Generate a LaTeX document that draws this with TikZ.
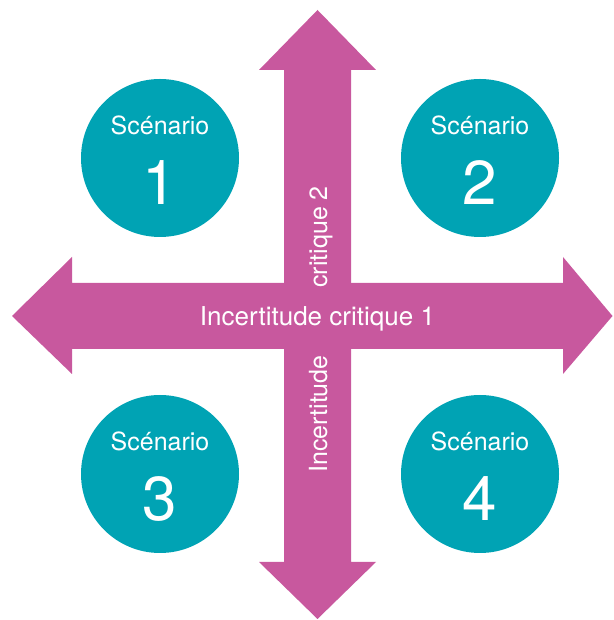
\documentclass[tikz,border=0pt]{standalone}
\usepackage{fontspec}
\setmainfont{TeX Gyre Heros}
\definecolor{arrowmag}{RGB}{200,88,158}
\definecolor{scenteal}{RGB}{0,163,180}
\begin{document}
\begin{tikzpicture}[x=1pt,y=1pt,
  scen/.style={circle,fill=scenteal,minimum size=158pt,inner sep=0pt},
  lbl/.style={text=white,font=\fontsize{25}{30}\selectfont,inner sep=0pt},
  num/.style={text=white,font=\fontsize{62}{70}\selectfont,inner sep=0pt}]
\useasboundingbox (0,0) rectangle (613,620);
% vertical double arrow
\fill[arrowmag] (317.5,610) -- (376,550) -- (351,550) -- (351,58) -- (376,58)
  -- (317.5,1) -- (259,58) -- (284,58) -- (284,550) -- (259,550) -- cycle;
% horizontal double arrow
\fill[arrowmag] (12,304) -- (72,363) -- (72,337) -- (563,337) -- (563,363)
  -- (612.5,304) -- (563,246) -- (563,271) -- (72,271) -- (72,246) -- cycle;
% circles
\node[scen] (s1) at (160,462) {};
\node[scen] (s2) at (480,462) {};
\node[scen] (s3) at (160,146) {};
\node[scen] (s4) at (480,146) {};
\foreach \n/\d in {s1/1,s2/2,s3/3,s4/4}{
  \node[lbl,anchor=base] (t\n) at ([yshift=23pt]\n.center) {Scénario};
  \node[num] (d\n) at ([yshift=-24.5pt]\n.center) {\d};
}
% axis labels
\node[lbl,font=\fontsize{26}{30}\selectfont,anchor=base] (h1) at (317.5,294) {Incertitude critique 1};
\node[lbl,anchor=base west,rotate=90] (v1) at (327,147) {Incertitude};
\node[lbl,anchor=base west,rotate=90] (v2) at (327,332) {critique 2};
\end{tikzpicture}
\end{document}
